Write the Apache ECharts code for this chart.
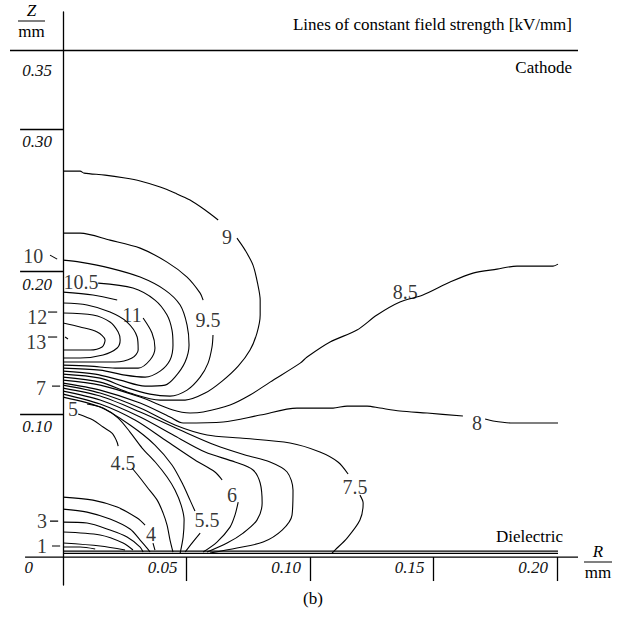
<!DOCTYPE html>
<html>
<head>
<meta charset="utf-8">
<script src="https://cdn.jsdelivr.net/npm/echarts@6/dist/echarts.min.js"></script>
<style>
  html, body { margin: 0; padding: 0; background: #fff; }
  #chart { width: 620px; height: 634px; }
</style>
</head>
<body>
<div id="chart"></div>
<script>
const myChart = echarts.init(document.getElementById('chart'), null, { renderer: 'svg' })

const serif = 'Liberation Serif'

// axis ticks, R and Z in mm
const rTicks = [0.05, 0.1, 0.15, 0.2]
const rLabelValues = [0, 0.05, 0.1, 0.15, 0.2]
const rLabels = ['0', '0.05', '0.10', '0.15', '0.20']
const zTicks = [0.1, 0.2, 0.3]
const zLabelValues = [0.1, 0.2, 0.3, 0.35]
const zLabels = ['0.10', '0.20', '0.30', '0.35']

// boundaries
const cathode = [[-0.0215, 0.355], [0.2085, 0.355]]
const rAxisLine = [[-0.0154, 0], [0.2085, 0]]
const dielectricTop = [[0, 0.0042], [0.2004, 0.0042]]
const dielectricBottom = [[0, 0.0025], [0.2004, 0.0025]]

// lines of constant field strength [R, Z], split where a value label sits
const c9a = [[0, 0.2705], [0.0069, 0.2705], [0.0085, 0.2691], [0.017, 0.2677], [0.0251, 0.2656], [0.0312, 0.2635], [0.0393, 0.2593], [0.0453, 0.2551], [0.0514, 0.2502], [0.0575, 0.2432], [0.0628, 0.2362]]
const c9b = [[0.0704, 0.2235], [0.0737, 0.2151], [0.0769, 0.2046], [0.0789, 0.1906], [0.0798, 0.1801], [0.0798, 0.1696], [0.0785, 0.157], [0.0757, 0.1451], [0.0709, 0.1338], [0.0644, 0.1233], [0.0575, 0.1149], [0.0494, 0.11], [0.0393, 0.11], [0.0271, 0.1149], [0.015, 0.1226], [0, 0.1261]]
const c95a = [[0, 0.227], [0.0069, 0.227], [0.019, 0.2221], [0.0312, 0.2165], [0.0421, 0.2067], [0.0502, 0.1962], [0.0555, 0.185], [0.0567, 0.1801]]
const c95b = [[0.0607, 0.1556], [0.0603, 0.1472], [0.0587, 0.1359], [0.0555, 0.1261], [0.0502, 0.117], [0.0433, 0.1128], [0.0352, 0.1142], [0.0251, 0.1191], [0.015, 0.1254], [0, 0.1282]]
const c10 = [[0, 0.2081], [0.0069, 0.2067], [0.019, 0.2025], [0.0312, 0.1962], [0.0413, 0.1871], [0.0474, 0.1766], [0.0502, 0.1626], [0.051, 0.1486], [0.0494, 0.1367], [0.0453, 0.1261], [0.0413, 0.1205], [0.0332, 0.1198], [0.0231, 0.124], [0.013, 0.1282], [0, 0.1303]]
const c105 = [[0.0142, 0.192], [0.0283, 0.1885], [0.0372, 0.1801], [0.0421, 0.1696], [0.0441, 0.1591], [0.0445, 0.1486], [0.0433, 0.1381], [0.0393, 0.1303], [0.0332, 0.1261], [0.0251, 0.1275], [0.015, 0.131], [0, 0.1324]]
const c11a = [[0, 0.1857], [0.0121, 0.1836], [0.0219, 0.1801]]
const c11b = [[0.0324, 0.1675], [0.036, 0.157], [0.0372, 0.1465], [0.0352, 0.1381], [0.0304, 0.1324], [0.0211, 0.1324], [0.0109, 0.1338], [0, 0.1345]]
const c115 = [[0, 0.178], [0.0097, 0.1766], [0.019, 0.1717], [0.0259, 0.1647], [0.03, 0.1542], [0.0304, 0.1451], [0.0279, 0.1395], [0.0211, 0.1367], [0.0109, 0.1367], [0, 0.1367]]
const c12 = [[0, 0.171], [0.0121, 0.1696], [0.019, 0.1647], [0.0223, 0.1577], [0.0231, 0.1521], [0.0219, 0.1465], [0.0162, 0.1416], [0.0069, 0.1395], [0, 0.1395]]
const c13 = [[0, 0.164], [0.0069, 0.1612], [0.0138, 0.1577], [0.017, 0.1521], [0.0158, 0.1472], [0.0109, 0.1451], [0, 0.1451]]
const c85 = [[0, 0.124], [0.015, 0.1205], [0.0312, 0.1121], [0.0445, 0.103], [0.0514, 0.1009], [0.0567, 0.1016], [0.0676, 0.1065], [0.0757, 0.1135], [0.0838, 0.1226], [0.096, 0.1359], [0.0988, 0.1402], [0.1081, 0.1507], [0.119, 0.1591], [0.1271, 0.1696], [0.1364, 0.1787], [0.1457, 0.1836], [0.1567, 0.1927], [0.166, 0.199], [0.1757, 0.2018], [0.1838, 0.2039], [0.1984, 0.2039], [0.2004, 0.2053]]
const c8a = [[0, 0.1219], [0.015, 0.117], [0.0312, 0.1079], [0.0433, 0.0981], [0.0486, 0.0939], [0.0648, 0.0946], [0.0798, 0.0995], [0.0947, 0.1044], [0.1093, 0.1044], [0.115, 0.1058], [0.1231, 0.1058], [0.1283, 0.1044], [0.1364, 0.1023], [0.1474, 0.1009], [0.1619, 0.0988]]
const c8b = [[0.1709, 0.0967], [0.1741, 0.0953], [0.1822, 0.0939], [0.2004, 0.0939]]
const c75a = [[0, 0.1205], [0.015, 0.1149], [0.0312, 0.1044], [0.0453, 0.0925], [0.0583, 0.0855], [0.0717, 0.0834], [0.0919, 0.0799], [0.104, 0.0736], [0.1113, 0.0666], [0.1154, 0.0582]]
const c75b = [[0.1202, 0.0434], [0.1215, 0.0378], [0.1202, 0.0259], [0.115, 0.0133], [0.1101, 0.0049], [0.1089, 0.0028]]
const c7 = [[0, 0.1184], [0.015, 0.1128], [0.0312, 0.1016], [0.0474, 0.089], [0.0615, 0.0785], [0.0737, 0.0715], [0.0838, 0.0666], [0.0907, 0.0596], [0.0931, 0.047], [0.0927, 0.0294], [0.0887, 0.0189], [0.081, 0.0105], [0.0704, 0.0063], [0.0595, 0.0028]]
const c65 = [[0, 0.1163], [0.015, 0.11], [0.0312, 0.0981], [0.0453, 0.0848], [0.0575, 0.0736], [0.0696, 0.0666], [0.0769, 0.061], [0.0798, 0.0519], [0.0806, 0.0378], [0.0785, 0.0259], [0.0729, 0.0168], [0.0664, 0.0098], [0.0583, 0.0035]]
const c6a = [[0, 0.1142], [0.015, 0.1072], [0.0291, 0.096], [0.0413, 0.082], [0.0534, 0.068], [0.0615, 0.0596], [0.0644, 0.054]]
const c6b = [[0.0709, 0.0385], [0.0696, 0.0294], [0.0676, 0.021], [0.0623, 0.0105], [0.0567, 0.0035]]
const c55a = [[0, 0.1121], [0.015, 0.1051], [0.0271, 0.0925], [0.0372, 0.0785], [0.0441, 0.0645], [0.0486, 0.0505], [0.0514, 0.0399], [0.0534, 0.0322]]
const c55b = [[0.0555, 0.0168], [0.0522, 0.0098], [0.0494, 0.0035]]
const c5 = [[0.0097, 0.1072], [0.0162, 0.1044], [0.0223, 0.0974], [0.0271, 0.0876], [0.032, 0.0764], [0.0373, 0.0666], [0.0421, 0.0561], [0.0453, 0.047], [0.0478, 0.0364], [0.049, 0.0259], [0.0486, 0.014], [0.0474, 0.0028]]
const c45a = [[0.0061, 0.1002], [0.0121, 0.096], [0.0162, 0.0911], [0.0198, 0.0869], [0.0215, 0.082], [0.0223, 0.0778]]
const c45b = [[0.0279, 0.0624], [0.0312, 0.0554], [0.034, 0.0491], [0.0381, 0.0399], [0.0405, 0.0308], [0.0421, 0.0224], [0.0433, 0.0119], [0.0445, 0.0035]]
const c4a = [[0, 0.042], [0.0121, 0.0399], [0.0219, 0.035], [0.03, 0.0273], [0.0332, 0.0224]]
const c4b = [[0.0364, 0.0098], [0.0372, 0.0049]]
const c35 = [[0, 0.0336], [0.0097, 0.0315], [0.019, 0.0266], [0.0271, 0.0196], [0.0312, 0.0119], [0.034, 0.0063], [0.0352, 0.0035]]
const c3 = [[0, 0.0245], [0.0097, 0.0238], [0.019, 0.0189], [0.0259, 0.014], [0.0312, 0.007], [0.0324, 0.0035]]
const c2 = [[0, 0.0175], [0.015, 0.0154], [0.0243, 0.0098], [0.0283, 0.0049]]
const c1 = [[0, 0.0098], [0.015, 0.0077], [0.0251, 0.0049]]
const c05 = [[0, 0.007], [0.0069, 0.007], [0.013, 0.0056]]

// short strokes that tie a value to its line
const leader10 = [[-0.0053, 0.2116], [-0.0024, 0.2088]]
const leader12 = [[-0.0061, 0.1717], [-0.0024, 0.1717]]
const leader13 = [[-0.0061, 0.1542], [-0.0024, 0.1542]]
const leader13in = [[0.0008, 0.1542], [0.002, 0.1528]]
const leader7 = [[-0.0045, 0.1198], [-0.0012, 0.1198]]
const leader3 = [[-0.0053, 0.0252], [-0.002, 0.0252]]
const leader1 = [[-0.0045, 0.0077], [-0.0012, 0.0077]]

// field strength values written on the plot
const levelText = ['9', '9.5', '8.5', '10', '10.5', '11', '12', '13', '7', '5', '8', '4.5', '7.5', '6', '5.5', '4', '3', '1']
const levelPos = [[0.0664, 0.2242], [0.0587, 0.1661], [0.1385, 0.1857], [-0.0121, 0.2109], [0.0073, 0.1927], [0.0279, 0.1696], [-0.0105, 0.1682], [-0.0109, 0.1507], [-0.0089, 0.1184], [0.004, 0.1037], [0.1676, 0.0939], [0.0243, 0.0659], [0.1182, 0.0491], [0.0684, 0.0434], [0.0583, 0.0259], [0.0356, 0.0161], [-0.0085, 0.0252], [-0.0085, 0.0077]]

const contours = [c9a, c9b, c95a, c95b, c10, c105, c11a, c11b, c115, c12, c13, c85, c8a, c8b, c75a, c75b, c7, c65, c6a, c6b, c55a, c55b, c5, c45a, c45b, c4a, c4b, c35, c3, c2, c1, c05]
const leaders = [leader10, leader12, leader13, leader13in, leader7, leader3, leader1]
const borders = [cathode, rAxisLine, dielectricTop, dielectricBottom]

const pick = (values, labels, v) => {
	const i = values.findIndex((x) => Math.abs(x - v) < 1e-9)
	return i < 0 ? '' : labels[i]
}

const txt = { fontFamily: serif, color: '#000', fontWeight: 'normal' }
const tickTxt = { fontFamily: serif, color: '#111', fontWeight: 'normal', fontStyle: 'italic', fontSize: 17 }

const line = (data, width, smooth) => ({
	type: 'line',
	data: data,
	symbol: 'none',
	smooth: smooth,
	silent: true,
	animation: false,
	lineStyle: { color: '#000', width: width },
})

let option = {
	animation: false,
	grid: { left: 10, right: 42, top: 12, bottom: 49, outerBoundsMode: 'none', containLabel: false },
	title: [
		{ text: 'Lines of constant field strength [kV/mm]', right: 48, top: 16, padding: 0, textStyle: { ...txt, fontSize: 17 } },
		{ text: 'Cathode', right: 48, top: 59, padding: 0, textStyle: { ...txt, fontSize: 17 } },
		{ text: 'Dielectric', right: 57, top: 528, padding: 0, textStyle: { ...txt, fontSize: 17 } },
		{ text: '(b)', left: 303, top: 590, padding: 0, textStyle: { ...txt, fontSize: 17 } },
		{
			text: '{a|Z}\n{l| }\n{b|mm}', left: 18, top: 2, padding: 0,
			textStyle: {
				rich: {
					a: { ...txt, fontSize: 17, fontStyle: 'italic', align: 'center', lineHeight: 17 },
					l: { width: 27, height: 1, lineHeight: 4, backgroundColor: '#000', align: 'center', fontSize: 4 },
					b: { ...txt, fontSize: 17, align: 'center', lineHeight: 17 },
				},
			},
		},
		{
			text: '{a|R}\n{l| }\n{b|mm}', left: 584, top: 543, padding: 0,
			textStyle: {
				rich: {
					a: { ...txt, fontSize: 17, fontStyle: 'italic', align: 'center', lineHeight: 17 },
					l: { width: 28, height: 1, lineHeight: 4, backgroundColor: '#000', align: 'center', fontSize: 4 },
					b: { ...txt, fontSize: 17, align: 'center', lineHeight: 17 },
				},
			},
		},
	],
	xAxis: {
		type: 'value',
		min: -0.0215,
		max: 0.2085,
		splitLine: { show: false },
		axisLine: { show: false, onZero: true },
		axisTick: { show: true, customValues: rTicks, length: 24, lineStyle: { color: '#000', width: 1.3 } },
		axisLabel: {
			customValues: rLabelValues,
			formatter: (v) => (Math.abs(v) < 1e-9 ? '{o|0}' : pick(rLabelValues, rLabels, v)),
			...tickTxt,
			align: 'right',
			margin: -26,
			padding: [0, 9, 0, 0],
			rich: { o: { ...tickTxt, padding: [0, 21, 0, 0] } },
		},
	},
	yAxis: {
		type: 'value',
		min: -0.0196,
		max: 0.382,
		splitLine: { show: false },
		axisLine: { show: true, onZero: true, lineStyle: { color: '#000', width: 1.3 } },
		axisTick: { show: true, customValues: zTicks, length: 43, lineStyle: { color: '#000', width: 1.3 } },
		axisLabel: {
			customValues: zLabelValues,
			formatter: (v) => pick(zLabelValues, zLabels, v),
			...tickTxt,
			margin: -42,
			verticalAlign: 'top',
			padding: [4, 0, 0, 0],
		},
	},
	series: [
		...borders.map((d) => line(d, 1.3, false)),
		...contours.map((d) => line(d, 1.1, 0.3)),
		...leaders.map((d) => line(d, 1.1, false)),
		{
			type: 'scatter',
			symbolSize: 0,
			silent: true,
			animation: false,
			data: levelText.map((t, i) => ({ name: t, value: levelPos[i] })),
			label: { show: true, position: 'inside', formatter: '{b}', ...txt, fontSize: 20 },
		},
	],
}
myChart.setOption(option)

window.addEventListener('resize', () => {
	myChart.resize()
})
</script>
</body>
</html>
